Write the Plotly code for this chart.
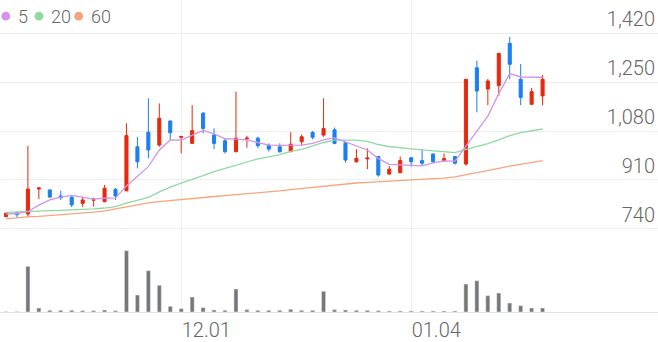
import plotly.graph_objects as go

dates = ["11.09","11.10","11.13","11.14","11.15","11.16","11.17","11.20","11.21","11.22",
         "11.23","11.24","11.27","11.28","11.29","11.30","12.01","12.04","12.05","12.06",
         "12.07","12.08","12.11","12.12","12.13","12.14","12.15","12.18","12.19","12.20",
         "12.21","12.22","12.26","12.27","12.28","01.02","01.03","01.04","01.05","01.08",
         "01.09","01.10","01.11","01.12","01.15","01.16","01.17","01.18","01.19","01.22"]

open_ = [782,796,791,878,875,854,850,828,839,834,877,872,1025,1076,1031,1115,1058,1037,1142,1066,
         1046,1008,1052,1055,1031,1025,1008,1043,1075,1066,1084,1039,973,983,991,930,935,987,977,1000,
         976,991,965,1300,1226,1238,1385,1260,1173,1202]
high = [795,797,1028,884,876,872,852,851,848,892,881,1107,1060,1194,1176,1116,1062,1170,1146,1089,
        1055,1217,1063,1060,1037,1037,1076,1068,1080,1194,1092,1043,1017,1020,993,958,991,989,1017,1002,
        1002,992,1261,1325,1261,1352,1408,1313,1230,1275]
low = [781,778,781,843,848,840,815,815,817,832,840,870,950,985,1025,1049,1002,1035,1072,1017,
       1002,1006,1022,1020,1008,1004,1006,1031,1051,1060,1034,970,970,947,921,929,933,956,958,968,
       975,963,959,1145,1170,1202,1260,1170,1171,1170]
close = [794,789,878,882,850,848,823,840,842,881,854,1064,973,1014,1124,1074,1061,1081,1089,1037,
         1008,1055,1055,1029,1017,1008,1034,1060,1058,1089,1037,979,985,986,927,947,977,973,968,973,
         984,968,1260,1219,1254,1350,1312,1197,1217,1260]

volume = [300,500,45700,4000,1700,1700,1700,1300,1300,2000,1300,61300,17000,41300,26700,5700,3300,15000,4300,2000,
          1700,23000,2300,1700,1700,1700,2700,1700,1700,20700,2300,2000,1700,1700,1300,1000,1000,1000,1000,1000,
          1000,1000,28000,31300,16300,19000,9000,6300,4000,4000]

ma5 = [791,793,799,822,840,850,856,850,843,846,847,889,922,956,1014,1049,1048,1066,1082,1070,
       1053,1052,1049,1040,1031,1030,1030,1031,1037,1049,1056,1042,1026,1014,984,964,962,960,959,969,
       976,975,1026,1077,1132,1210,1280,1268,1267,1267]
ma20 = [797,799,801,802,803,804,805,807,809,812,817,829,840,849,868,885,899,911,925,939,
        950,963,974,983,990,998,1009,1016,1028,1040,1048,1049,1048,1044,1033,1026,1023,1018,1014,1011,
        1009,1005,1016,1025,1036,1049,1064,1074,1081,1087]
ma60 = [774,778,781,783,786,788,790,794,798,802,809,817,824,830,834,838,841,844,848,852,
        855,858,861,864,868,872,876,880,883,888,892,896,899,901,903,906,909,911,913,915,
        916,920,927,935,943,950,958,964,971,977]

price_ticks = [740, 910, 1080, 1250, 1420]
price_tick_text = ["740", "910", "1,080", "1,250", "1,420"]
date_ticks = ["12.01", "01.04"]
ma_names = ["5", "20", "60"]

RED = "#e5290f"
BLUE = "#1b7ff0"
MA_COLORS = ["#d393e8", "#8fd9a2", "#f7a47c"]
TEXT = "#666666"
GRID = "#eeeeee"
FONT = "Roboto"

fig = go.Figure()

fig.add_trace(go.Bar(x=dates, y=volume, marker_color="#777777", width=0.37,
                     yaxis="y2", showlegend=False, hoverinfo="skip"))

for vals, col in zip([ma60, ma20, ma5], MA_COLORS[::-1]):
    fig.add_trace(go.Scatter(x=dates, y=vals, mode="lines", line=dict(color=col, width=1.3),
                             showlegend=False, hoverinfo="skip"))

fig.add_trace(go.Candlestick(
    x=dates, open=open_, high=high, low=low, close=close,
    increasing=dict(line=dict(color=RED, width=1), fillcolor=RED),
    decreasing=dict(line=dict(color=BLUE, width=1), fillcolor=BLUE),
    whiskerwidth=0, showlegend=False))

W, H = 658, 342
MB = 30
PH = H - MB
split = 72 / PH

fig.update_layout(
    width=W, height=H,
    margin=dict(l=0, r=0, t=0, b=MB, pad=0),
    paper_bgcolor="white", plot_bgcolor="white",
    boxgap=0.6,
    showlegend=False,
    font=dict(family=FONT, color=TEXT),
    xaxis=dict(type="category", range=[-0.548, 59.54], anchor="y2",
               rangeslider=dict(visible=False),
               showgrid=True, gridcolor=GRID, gridwidth=1,
               tickvals=date_ticks, ticktext=date_ticks,
               ticks="", ticklabelposition="outside right",
               tickfont=dict(size=20, color=TEXT, family=FONT, weight=300),
               showline=True, linecolor="#e4e4e4", linewidth=1, zeroline=False),
    yaxis=dict(domain=[split, 1], range=[700.7, 1535.9], side="right",
               tickvals=price_ticks, ticktext=price_tick_text,
               ticks="", ticklabelposition="inside top",
               tickfont=dict(size=20, color=TEXT, family=FONT, weight=300),
               showgrid=True, gridcolor=GRID, gridwidth=1, zeroline=False, showline=False),
    yaxis2=dict(domain=[0, split], range=[0, 72000], showgrid=False, showticklabels=False,
                zeroline=False, showline=False, ticks=""),
)

leg_circle_x = [5.8, 39.0, 78.7]
leg_text_x = [16.0, 48.5, 88.5]
leg_y = 1 - 16.2 / PH
for name, col, cx, tx in zip(ma_names, MA_COLORS, leg_circle_x, leg_text_x):
    fig.add_shape(type="circle", xref="paper", yref="paper", xsizemode="pixel", ysizemode="pixel",
                  xanchor=cx / W, yanchor=leg_y, x0=-4.4, x1=4.4, y0=-4.4, y1=4.4,
                  fillcolor=col, line=dict(width=0))
    fig.add_annotation(text=name, xref="paper", yref="paper", x=tx / W, y=leg_y,
                       xanchor="left", yanchor="middle", showarrow=False,
                       font=dict(size=18, color=TEXT, family=FONT, weight=300))

fig.write_html("out.html")
